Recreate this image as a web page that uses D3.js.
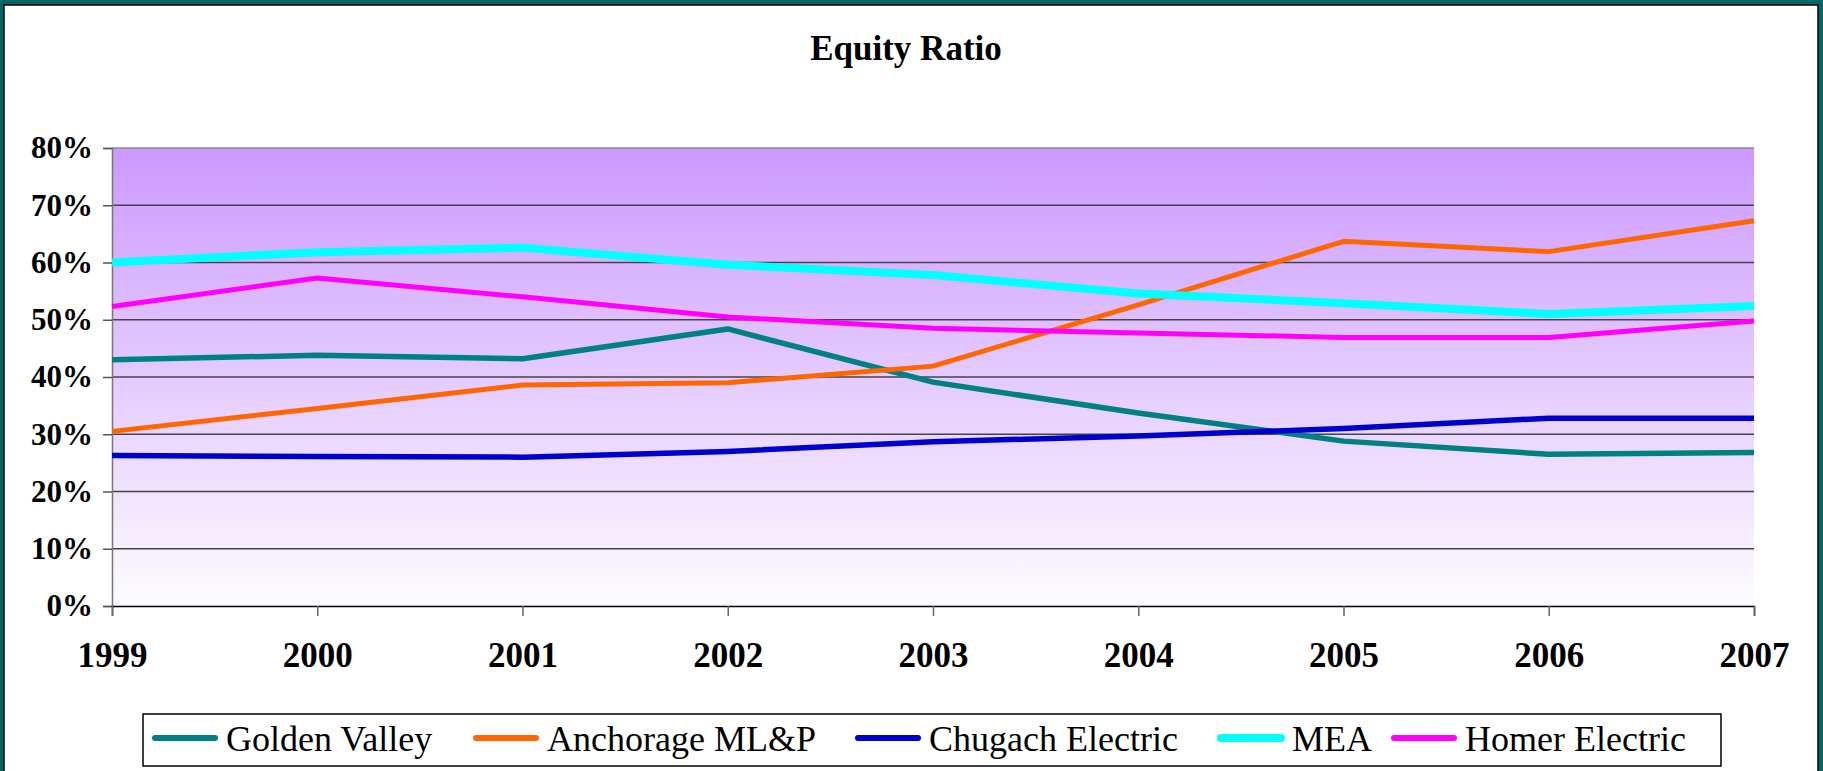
<!DOCTYPE html>
<html>
<head>
<meta charset="utf-8">
<script src="https://cdn.jsdelivr.net/npm/d3@7"></script>
<style>
	html, body { margin: 0; padding: 0; background: #006666; overflow: hidden; }
	svg { display: block; }
	text { font-family: "Liberation Serif", "Times New Roman", serif; }
</style>
</head>
<body>
<div id="chart"></div>
<script>

// data
var years = ["1999", "2000", "2001", "2002", "2003", "2004", "2005", "2006", "2007"];
var yticks = [0, 0.1, 0.2, 0.3, 0.4, 0.5, 0.6, 0.7, 0.8];

var goldenValley = [0.430, 0.438, 0.432, 0.484, 0.391, 0.337, 0.288, 0.265, 0.268];
var anchorage    = [0.305, 0.345, 0.386, 0.390, 0.419, 0.526, 0.637, 0.619, 0.673];
var chugach      = [0.263, 0.261, 0.260, 0.270, 0.287, 0.297, 0.310, 0.328, 0.328];
var mea          = [0.600, 0.618, 0.626, 0.596, 0.578, 0.546, 0.529, 0.510, 0.524];
var homer        = [0.523, 0.573, 0.540, 0.505, 0.485, 0.477, 0.469, 0.469, 0.498];

var seriesNames  = ["Golden Valley", "Anchorage ML&P", "Chugach Electric", "MEA", "Homer Electric"];
var seriesValues = [goldenValley, anchorage, chugach, mea, homer];

var colors = ["#008080", "#FF6600", "#0000CC", "#00FFFF", "#FF00FF"];
var widths = [5.5, 5, 5.5, 8, 5];

var W = 1823, H = 771;
var margin = { top: 148, right: 69, bottom: 165, left: 112 },
	width = W - margin.left - margin.right,
	height = H - margin.top - margin.bottom;

// legend item starts (Excel spaces them unevenly)
var legendX = [152, 473, 855, 1218, 1391];

var svg = d3.select("#chart").append("svg")
	.attr("width", W)
	.attr("height", H);

// white panel with black rule inside the teal frame
svg.append("rect")
	.attr("x", 4).attr("y", 5)
	.attr("width", 1814).attr("height", H)
	.attr("fill", "#fff")
	.attr("stroke", "#000")
	.attr("stroke-width", 1.5);

var defs = svg.append("defs");
var grad = defs.append("linearGradient")
	.attr("id", "bg")
	.attr("x1", 0).attr("y1", 0)
	.attr("x2", 0).attr("y2", 1);
grad.append("stop").attr("offset", "0%").attr("stop-color", "#CC99FF");
grad.append("stop").attr("offset", "100%").attr("stop-color", "#FDFCFF");

// title
svg.append("text")
	.attr("x", 906).attr("y", 60)
	.attr("text-anchor", "middle")
	.attr("font-size", 35)
	.attr("font-weight", "bold")
	.text("Equity Ratio");

var g = svg.append("g")
	.attr("transform", `translate(${margin.left},${margin.top})`);

var x = d3.scalePoint()
	.domain(years)
	.range([0, width]);

var y = d3.scaleLinear()
	.domain([0, 0.8])
	.range([height, 0]);

g.append("rect")
	.attr("width", width)
	.attr("height", height)
	.attr("fill", "url(#bg)");

// gridlines
g.append("g")
	.selectAll("line")
	.data(yticks.filter(d => d > 0))
	.join("line")
		.attr("x1", 0).attr("x2", width)
		.attr("y1", d => y(d)).attr("y2", d => y(d))
		.attr("stroke", d => d === 0.8 ? "#888" : "#444")
		.attr("stroke-width", 1.5);

// y axis
var yaxis = g.append("g")
	.call(d3.axisLeft(y).tickValues(yticks).tickSize(9).tickPadding(10).tickFormat(d3.format(".0%")));
yaxis.select(".domain").attr("stroke", "#777").attr("stroke-width", 1.5);
yaxis.selectAll(".tick line").attr("stroke", "#555").attr("stroke-width", 1.5);
yaxis.selectAll("text")
	.attr("font-family", "Liberation Serif, Times New Roman, serif")
	.attr("font-size", 31)
	.attr("font-weight", "bold")
	.attr("fill", "#000");

// x axis
var xaxis = g.append("g")
	.attr("transform", `translate(0,${height})`)
	.call(d3.axisBottom(x).tickSize(10).tickPadding(26));
xaxis.select(".domain").attr("stroke", "#000").attr("stroke-width", 1.5);
xaxis.selectAll(".tick line").attr("stroke", "#666").attr("stroke-width", 1.5);
xaxis.selectAll("text")
	.attr("font-family", "Liberation Serif, Times New Roman, serif")
	.attr("font-size", 35)
	.attr("font-weight", "bold")
	.attr("fill", "#000");

// lines
var line = d3.line()
	.x((d, i) => x(years[i]))
	.y(d => y(d));

g.append("g")
	.selectAll("path")
	.data(seriesValues)
	.join("path")
		.attr("d", line)
		.attr("fill", "none")
		.attr("stroke", (d, i) => colors[i])
		.attr("stroke-width", (d, i) => widths[i])
		.attr("stroke-linejoin", "round");

// legend
var legend = svg.append("g");
legend.append("rect")
	.attr("x", 143).attr("y", 714)
	.attr("width", 1578).attr("height", 52)
	.attr("fill", "#fff")
	.attr("stroke", "#000")
	.attr("stroke-width", 1.5);

seriesNames.forEach( (name, i) => {

	var lx = legendX[i];

	legend.append("line")
		.attr("x1", lx + 3).attr("x2", lx + 63)
		.attr("y1", 738).attr("y2", 738)
		.attr("stroke", colors[i])
		.attr("stroke-width", i === 3 ? 8 : 6)
		.attr("stroke-linecap", "round");

	legend.append("text")
		.attr("x", lx + 74).attr("y", 751)
		.attr("font-size", 36)
		.text(name);

});

</script>
</body>
</html>
